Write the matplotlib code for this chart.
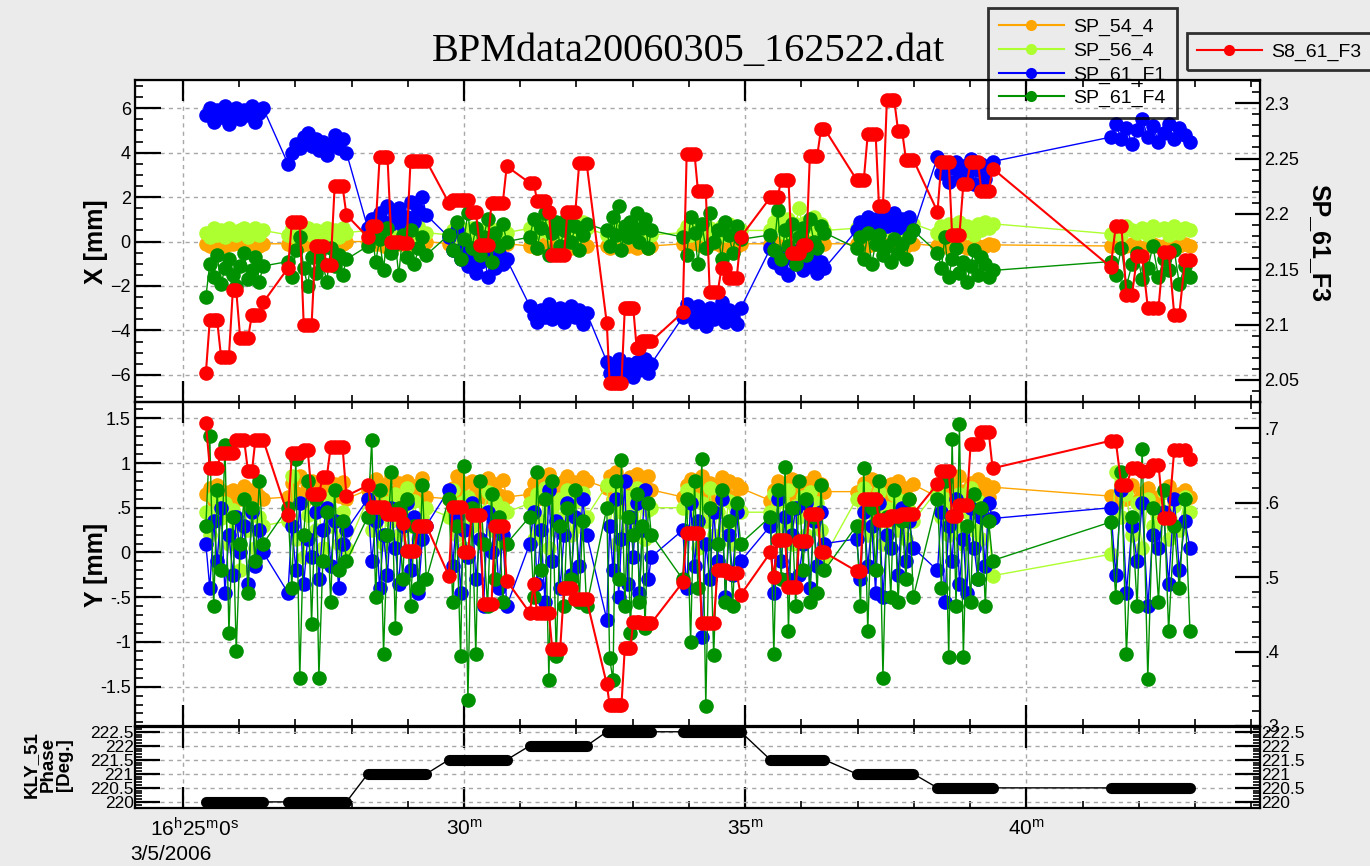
import matplotlib
matplotlib.use('Agg')
import matplotlib.pyplot as plt
from matplotlib.ticker import MultipleLocator, FixedLocator
from matplotlib.lines import Line2D

plt.rcParams['font.family'] = ['Liberation Sans', 'DejaVu Sans']
plt.rcParams['mathtext.fontset'] = 'custom'
plt.rcParams['mathtext.rm'] = 'Liberation Sans'
plt.rcParams['mathtext.it'] = 'Liberation Sans:italic'
plt.rcParams['mathtext.bf'] = 'Liberation Sans:bold'

# ---------------- data (time in minutes after 16:00) ----------------
TIMES = [
    [25.41, 25.48, 25.55, 25.61, 25.68, 25.75, 25.82, 25.89, 25.95, 26.02, 26.09, 26.16, 26.23, 26.29, 26.36, 26.43],
    [26.87, 26.94, 27.01, 27.08, 27.15, 27.22, 27.29, 27.36, 27.42, 27.49, 27.56, 27.63, 27.70, 27.77, 27.84, 27.91],
    [28.29, 28.36, 28.43, 28.50, 28.57, 28.64, 28.71, 28.78, 28.84, 28.91, 28.98, 29.05, 29.12, 29.19, 29.26, 29.33],
    [29.73, 29.80, 29.87, 29.94, 30.00, 30.07, 30.14, 30.21, 30.28, 30.35, 30.42, 30.49, 30.55, 30.62, 30.69, 30.76],
    [31.17, 31.24, 31.30, 31.37, 31.44, 31.51, 31.57, 31.64, 31.71, 31.78, 31.84, 31.91, 31.98, 32.05, 32.11, 32.18],
    [32.54, 32.59, 32.65, 32.70, 32.75, 32.80, 32.86, 32.91, 32.96, 33.01, 33.07, 33.12, 33.17, 33.22, 33.28, 33.33],
    [33.89, 33.96, 34.03, 34.10, 34.16, 34.23, 34.30, 34.37, 34.44, 34.51, 34.58, 34.65, 34.71, 34.78, 34.85, 34.92],
    [35.45, 35.51, 35.58, 35.64, 35.71, 35.77, 35.83, 35.90, 35.96, 36.03, 36.09, 36.15, 36.22, 36.28, 36.35, 36.41],
    [36.98, 37.05, 37.11, 37.18, 37.25, 37.32, 37.38, 37.45, 37.52, 37.59, 37.65, 37.72, 37.79, 37.86, 37.92, 37.99],
    [38.42, 38.49, 38.55, 38.62, 38.68, 38.75, 38.81, 38.88, 38.94, 39.01, 39.07, 39.14, 39.20, 39.27, 39.33, 39.40],
    [41.50, 41.59, 41.69, 41.78, 41.88, 41.97, 42.06, 42.16, 42.25, 42.35, 42.44, 42.53, 42.63, 42.72, 42.82, 42.91],
]
PHASE_LEVELS = [220, 220, 221, 221.5, 222, 222.5, 222.5, 221.5, 221, 220.5, 220.5]

SERIES_NAMES = ['SP_54_4', 'SP_56_4', 'SP_61_F1', 'SP_61_F4']
RED_NAME = 'S8_61_F3'

X_SP54 = [
    [-0.1, -0.2, -0.1, 0.0, -0.1, -0.2, -0.1, -0.1, 0.0, -0.1, -0.2, -0.1, 0.0, -0.1, -0.2, -0.1],
    [-0.1, 0.0, -0.1, -0.2, -0.1, -0.1, 0.0, -0.1, -0.2, -0.1, 0.0, -0.1, -0.1, -0.2, -0.1, 0.0],
    [0.0, -0.1, -0.1, 0.0, -0.2, -0.1, 0.0, -0.1, -0.1, 0.0, -0.2, -0.1, 0.0, -0.1, -0.1, 0.0],
    [-0.1, -0.2, -0.1, -0.1, 0.0, -0.2, -0.1, -0.1, -0.2, -0.1, 0.0, -0.1, -0.2, -0.1, -0.1, -0.1],
    [-0.2, -0.1, -0.3, -0.2, -0.1, -0.2, -0.3, -0.1, -0.2, -0.2, -0.1, -0.3, -0.2, -0.1, -0.2, -0.2],
    [-0.2, -0.3, -0.2, -0.1, -0.2, -0.3, -0.2, -0.2, -0.1, -0.2, -0.3, -0.2, -0.1, -0.2, -0.3, -0.2],
    [-0.1, -0.2, -0.1, 0.0, -0.1, -0.2, -0.1, -0.1, 0.0, -0.1, -0.2, -0.1, 0.0, -0.1, -0.2, -0.1],
    [-0.1, 0.0, -0.1, -0.1, -0.2, -0.1, 0.0, -0.1, -0.1, -0.2, -0.1, 0.0, -0.1, -0.2, -0.1, -0.1],
    [-0.1, -0.1, 0.0, -0.2, -0.1, -0.1, 0.0, -0.1, -0.2, -0.1, 0.0, -0.1, -0.1, -0.2, -0.1, -0.1],
    [-0.2, -0.1, -0.2, -0.3, -0.2, -0.1, -0.2, -0.2, -0.3, -0.2, -0.1, -0.2, -0.3, -0.2, -0.1, -0.15],
    [-0.2, -0.1, -0.2, -0.2, -0.1, -0.2, -0.3, -0.2, -0.1, -0.2, -0.2, -0.1, -0.3, -0.2, -0.1, -0.2],
]
X_SP56 = [
    [0.4, 0.2, 0.6, 0.3, 0.5, 0.2, 0.6, 0.4, 0.3, 0.5, 0.6, 0.2, 0.4, 0.6, 0.3, 0.5],
    [0.3, 0.6, 0.2, 0.5, 0.4, 0.6, 0.3, 0.5, 0.2, 0.4, 0.6, 0.3, 0.5, 0.2, 0.6, 0.4],
    [0.5, 0.3, 0.7, 0.4, 0.6, 0.2, 0.5, 0.7, 0.3, 0.4, 0.6, 0.2, 0.5, 0.7, 0.3, 0.4],
    [0.3, 0.5, 0.2, 0.6, 0.4, 0.3, 0.6, 0.2, 0.5, 0.4, 0.6, 0.3, 0.5, 0.2, 0.6, 0.4],
    [0.6, 0.3, 0.8, 0.5, 0.9, 0.4, 0.7, 0.5, 0.3, 0.6, 0.8, 0.4, 0.7, 0.3, 0.9, 0.6],
    [0.3, 0.5, 0.2, 0.4, 0.6, 0.3, 0.5, 0.2, 0.4, 0.3, 0.6, 0.2, 0.5, 0.3, 0.4, 0.3],
    [0.4, 0.7, 0.3, 0.6, 0.5, 0.8, 0.3, 0.6, 0.4, 0.5, 0.7, 0.3, 0.8, 0.4, 0.6, 0.5],
    [0.5, 0.9, 1.3, 0.7, 0.4, 1.0, 0.6, 0.8, 1.5, 0.5, 0.9, 0.7, 1.1, 0.4, 0.8, 0.5],
    [0.6, 0.3, 0.8, 0.5, 0.4, 0.7, 0.9, 0.5, 0.6, 0.8, 0.3, 0.7, 0.5, 0.9, 0.6, 0.8],
    [0.4, 0.7, 0.3, 0.8, 0.5, 0.6, 0.9, 0.4, 0.7, 0.6, 0.3, 0.8, 0.5, 0.9, 0.6, 0.8],
    [0.35, 0.6, 0.3, 0.7, 0.5, 0.4, 0.6, 0.3, 0.7, 0.5, 0.6, 0.3, 0.7, 0.4, 0.6, 0.5],
]
X_F1 = [
    [5.7, 6.0, 5.4, 5.9, 5.6, 6.1, 5.3, 5.8, 6.0, 5.5, 5.9, 5.7, 6.1, 5.4, 5.8, 6.0],
    [3.5, 4.0, 4.4, 4.2, 4.7, 4.9, 4.3, 4.6, 4.1, 4.5, 3.9, 4.4, 4.8, 4.2, 4.6, 4.0],
    [0.6, 1.0, 0.7, 1.3, 0.9, 1.6, 0.8, 1.2, 1.5, 0.7, 1.1, 1.8, 0.9, 1.4, 2.0, 1.2],
    [0.2, -0.4, 0.5, -0.8, -0.2, -1.1, -0.6, -1.4, -0.9, -0.3, -1.6, -0.7, -1.2, -0.5, -1.0, -0.8],
    [-2.9, -3.3, -3.6, -3.1, -3.4, -2.8, -3.5, -3.2, -3.0, -3.6, -3.3, -2.9, -3.4, -3.1, -3.7, -3.2],
    [-5.4, -5.9, -6.1, -5.6, -5.3, -5.8, -6.0, -5.5, -5.7, -6.1, -5.4, -5.8, -5.6, -5.3, -5.9, -5.5],
    [-3.4, -2.8, -3.1, -3.6, -2.9, -3.3, -3.8, -3.0, -3.5, -3.2, -2.7, -3.6, -3.1, -3.4, -3.7, -3.0],
    [-0.3, -0.9, -0.5, -1.2, -0.6, -1.5, -0.8, -1.0, -0.4, -1.3, -0.7, -1.1, -0.5, -1.4, -0.9, -1.2],
    [0.5, 0.9, 0.7, 1.1, 0.6, 1.0, 0.8, 1.2, 0.7, 0.9, 1.3, 0.6, 1.0, 0.8, 1.1, 0.5],
    [3.8, 3.1, 3.5, 2.7, 3.3, 3.6, 2.9, 3.4, 3.0, 3.7, 2.6, 3.2, 3.5, 2.8, 3.3, 3.6],
    [4.7, 5.3, 4.6, 5.1, 4.4, 5.0, 5.5, 4.7, 5.2, 4.5, 4.9, 5.3, 4.6, 5.1, 4.8, 4.5],
]
X_F4 = [
    [-2.5, -1.0, -1.6, -0.6, -1.9, -1.2, -0.8, -1.5, -2.0, -1.1, -0.5, -1.7, -1.3, -0.7, -1.8, -1.1],
    [-0.9, -1.6, -0.4, 0.2, -1.2, -2.0, -0.7, -1.4, -0.5, -1.0, -1.8, -0.3, -1.1, -0.6, -1.5, -0.8],
    [-0.2, 0.4, -0.9, 0.1, -1.3, 0.6, -0.5, -0.1, -1.5, 0.3, -0.7, 0.5, -1.0, -0.3, 0.2, -0.6],
    [0.3, -0.4, 0.9, -0.8, 0.1, 1.3, -0.3, 0.6, -0.6, 0.2, 1.0, -0.9, 0.4, -0.2, 0.8, 0.0],
    [0.2, 1.0, -0.3, 0.6, 1.3, -0.6, 0.4, 0.9, -0.2, 0.5, 1.1, 0.0, 0.7, -0.4, 0.3, 0.8],
    [0.5, -0.2, 1.1, 0.3, 1.6, -0.4, 0.7, 0.2, 0.9, 0.4, 1.3, 0.0, 0.6, 1.0, -0.3, 0.5],
    [0.2, -0.6, 1.1, 0.4, -1.0, 0.8, -0.3, 1.3, 0.0, 0.5, -0.8, 0.9, 0.3, -0.5, 0.7, 0.1],
    [0.3, -0.4, 1.4, -0.8, 0.5, -0.2, 0.8, -1.0, 0.2, 0.6, -0.6, 1.0, 0.0, -0.3, 0.7, 0.4],
    [-0.3, 0.2, -0.8, 0.4, -1.0, -0.1, 0.3, -0.6, -0.2, -0.9, 0.1, -0.5, -0.1, -0.8, 0.2, 0.5],
    [-0.5, -1.2, 0.2, -1.6, -0.8, -0.3, -1.4, -0.9, -1.8, -1.1, -0.4, -1.5, -0.7, -1.0, -1.6, -1.3],
    [-0.9, -1.5, -0.3, -2.0, -1.0, -0.5, -1.7, -1.2, -0.2, -1.6, -0.8, -1.3, -0.4, -1.9, -1.1, -1.6],
]
X_S8F3 = [  # right axis (SP_61_F3)
    [2.056, 2.104, 2.104, 2.104, 2.071, 2.071, 2.071, 2.131, 2.131, 2.088, 2.088, 2.088, 2.109, 2.109, 2.109, 2.120],
    [2.151, 2.193, 2.193, 2.193, 2.100, 2.100, 2.100, 2.171, 2.171, 2.171, 2.154, 2.154, 2.225, 2.225, 2.225, 2.199],
    [2.179, 2.189, 2.189, 2.251, 2.251, 2.251, 2.175, 2.175, 2.175, 2.174, 2.174, 2.248, 2.248, 2.248, 2.248, 2.248],
    [2.210, 2.213, 2.213, 2.213, 2.213, 2.213, 2.202, 2.202, 2.172, 2.172, 2.172, 2.210, 2.210, 2.210, 2.210, 2.243],
    [2.228, 2.228, 2.212, 2.212, 2.212, 2.202, 2.163, 2.163, 2.163, 2.163, 2.202, 2.202, 2.202, 2.246, 2.246, 2.246],
    [2.101, 2.047, 2.047, 2.047, 2.047, 2.047, 2.115, 2.115, 2.115, 2.115, 2.079, 2.079, 2.085, 2.085, 2.085, 2.085],
    [2.111, 2.254, 2.254, 2.254, 2.221, 2.221, 2.221, 2.129, 2.129, 2.129, 2.151, 2.151, 2.142, 2.142, 2.142, 2.179],
    [2.215, 2.215, 2.215, 2.231, 2.231, 2.231, 2.165, 2.165, 2.165, 2.172, 2.172, 2.252, 2.252, 2.252, 2.277, 2.277],
    [2.231, 2.231, 2.231, 2.272, 2.272, 2.272, 2.207, 2.207, 2.303, 2.303, 2.303, 2.275, 2.275, 2.249, 2.249, 2.249],
    [2.202, 2.247, 2.247, 2.247, 2.181, 2.181, 2.181, 2.227, 2.227, 2.247, 2.247, 2.247, 2.221, 2.221, 2.221, 2.241],
    [2.152, 2.189, 2.189, 2.127, 2.127, 2.162, 2.162, 2.115, 2.115, 2.115, 2.166, 2.166, 2.109, 2.109, 2.158, 2.158],
]

Y_SP54 = [
    [0.65, 0.72, 0.58, 0.75, 0.62, 0.68, 0.55, 0.70, 0.64, 0.60, 0.74, 0.66, 0.58, 0.71, 0.63, 0.60],
    [0.62, 0.78, 0.66, 0.85, 0.58, 0.72, 0.80, 0.64, 0.75, 0.60, 0.82, 0.68, 0.76, 0.63, 0.79, 0.60],
    [0.70, 0.58, 0.82, 0.65, 0.75, 0.60, 0.85, 0.68, 0.78, 0.62, 0.80, 0.66, 0.74, 0.59, 0.83, 0.62],
    [0.60, 0.72, 0.85, 0.65, 0.78, 0.58, 0.80, 0.68, 0.74, 0.62, 0.83, 0.70, 0.76, 0.64, 0.81, 0.62],
    [0.65, 0.78, 0.60, 0.82, 0.70, 0.88, 0.62, 0.75, 0.68, 0.80, 0.86, 0.66, 0.79, 0.72, 0.84, 0.80],
    [0.72, 0.85, 0.60, 0.90, 0.66, 0.80, 0.55, 0.76, 0.84, 0.70, 0.88, 0.64, 0.82, 0.74, 0.86, 0.70],
    [0.62, 0.75, 0.82, 0.58, 0.70, 0.86, 0.64, 0.78, 0.60, 0.72, 0.84, 0.66, 0.80, 0.62, 0.76, 0.72],
    [0.58, 0.70, 0.80, 0.62, 0.75, 0.66, 0.82, 0.60, 0.72, 0.68, 0.78, 0.63, 0.84, 0.70, 0.76, 0.68],
    [0.68, 0.60, 0.78, 0.65, 0.82, 0.58, 0.74, 0.70, 0.62, 0.76, 0.66, 0.80, 0.64, 0.72, 0.60, 0.76],
    [0.62, 0.75, 0.58, 0.80, 0.66, 0.72, 0.85, 0.60, 0.70, 0.78, 0.64, 0.82, 0.68, 0.76, 0.62, 0.73],
    [0.63, 0.55, 0.70, 0.60, 0.75, 0.58, 0.66, 0.72, 0.56, 0.62, 0.68, 0.74, 0.58, 0.65, 0.70, 0.62],
]
Y_SP56 = [
    [0.45, 0.20, 0.62, -0.15, 0.38, 0.55, 0.10, 0.48, 0.30, -0.20, 0.60, 0.25, 0.50, 0.05, 0.40, 0.30],
    [0.35, 0.85, 0.15, 0.55, -0.05, 0.42, 0.65, 0.25, 0.50, 0.05, 0.60, 0.30, 0.70, 0.10, 0.45, 0.05],
    [0.60, 0.25, 0.45, 0.70, 0.10, 0.55, 0.35, 0.65, 0.20, 0.50, 0.72, 0.30, 0.58, 0.15, 0.40, 0.50],
    [0.40, 0.70, 0.20, 0.55, 0.05, 0.62, 0.30, 0.48, 0.15, 0.45, 0.68, 0.25, 0.58, 0.10, 0.50, 0.45],
    [0.55, 0.15, 0.65, 0.35, 0.72, 0.05, 0.50, 0.25, 0.60, 0.40, 0.70, 0.20, 0.58, 0.30, 0.66, 0.40],
    [0.75, 0.30, 0.55, 0.10, 0.68, 0.45, 0.20, 0.62, 0.35, 0.50, 0.72, 0.25, 0.60, 0.15, 0.48, 0.50],
    [0.50, 0.70, 0.25, 0.60, 0.05, 0.55, 0.35, 0.72, 0.20, 0.45, 0.65, 0.30, 0.58, 0.10, 0.50, 0.45],
    [0.45, 0.65, 0.15, 0.58, 0.30, 0.70, 0.10, 0.52, 0.40, 0.62, 0.20, 0.68, 0.35, 0.55, 0.25, -0.05],
    [0.60, 0.30, 0.72, 0.20, 0.55, 0.40, 0.68, 0.10, 0.50, 0.35, 0.65, 0.25, 0.58, 0.15, 0.48, 0.35],
    [0.70, 0.40, 0.60, 0.20, 0.55, 0.30, 0.65, 0.10, 0.45, 0.72, 0.25, 0.58, 0.15, 0.50, 0.35, -0.26],
    [-0.02, 0.90, 0.40, 0.65, 0.20, 0.55, 0.05, 0.60, 0.30, 0.45, 0.68, 0.15, 0.52, 0.25, 0.62, 0.45],
]
Y_F1 = [
    [0.10, -0.40, 0.35, -0.10, 0.50, -0.45, 0.20, -0.25, 0.40, 0.00, 0.30, -0.35, 0.45, -0.15, 0.25, 0.00],
    [-0.45, 0.30, -0.20, 0.55, -0.35, 0.15, -0.05, 0.45, -0.30, 0.25, 0.50, -0.15, 0.35, -0.40, 0.10, 0.25],
    [0.60, -0.10, 0.35, -0.40, 0.20, -0.25, 0.50, 0.05, -0.35, 0.30, 0.55, -0.20, 0.40, -0.45, 0.15, 0.30],
    [0.70, -0.15, 0.40, -0.45, 0.25, -0.05, 0.55, -0.30, 0.15, -0.60, 0.45, 0.00, 0.35, -0.40, 0.20, -0.60],
    [0.10, 0.45, -0.35, 0.25, -0.55, 0.70, -0.10, 0.35, -0.40, 0.20, 0.55, -0.25, 0.40, -0.15, 0.60, 0.20],
    [-0.75, 0.30, -0.20, 0.60, -0.50, 0.15, 0.80, -0.35, 0.40, -0.05, 0.55, -0.45, 0.25, 0.70, -0.30, -0.05],
    [0.25, -0.40, 0.55, -0.15, 0.35, -0.95, 0.10, -0.30, 0.45, -0.10, 0.60, -0.50, 0.20, -0.25, 0.45, -0.10],
    [0.30, -0.45, 0.60, -0.10, 0.40, -0.30, 0.20, 0.50, -0.25, 0.10, 0.55, -0.40, 0.35, -0.15, 0.45, 0.10],
    [0.15, -0.30, 0.45, -0.15, 0.30, -0.45, 0.55, -0.50, 0.20, 0.05, 0.40, -0.25, 0.50, -0.10, 0.35, 0.05],
    [-0.20, 0.45, -0.55, 0.30, -0.10, 0.60, -0.35, 0.15, -0.45, 0.50, 0.05, -0.30, 0.40, -0.15, 0.55, 0.38],
    [0.50, -0.25, 0.70, -0.45, 0.30, -0.10, 0.55, -0.60, 0.20, 0.05, 0.45, -0.35, 0.60, -0.20, 0.35, 0.05],
]
Y_F4 = [
    [0.30, 1.30, -0.60, 0.70, -0.20, 1.20, -0.90, 0.40, -1.10, 0.10, 0.60, -0.45, 0.50, -0.10, 0.80, 0.10],
    [0.50, -0.40, 1.05, -1.40, 0.20, 0.80, -0.80, 0.60, -1.40, -0.10, 0.45, -0.55, 0.70, -0.20, 0.35, -0.10],
    [0.40, 1.26, -0.50, 0.70, -1.13, 0.20, 0.90, -0.85, 0.50, -0.30, 0.60, -0.60, 0.30, -0.40, 0.75, -0.30],
    [0.60, -0.55, 0.30, -1.16, 0.97, -1.65, 0.50, -1.14, 0.80, 0.10, -0.60, 0.65, -0.30, 0.40, -0.55, 0.10],
    [0.40, -0.50, 0.90, -0.20, 0.60, -1.43, 0.80, -1.16, 0.30, -0.60, 0.50, -0.30, 0.70, -0.55, 0.35, -0.60],
    [0.50, -1.18, -1.43, 0.80, -0.30, 1.03, -0.60, 0.40, -0.90, 0.20, 0.65, -0.55, 0.30, -0.85, 0.55, 0.20],
    [-0.30, 0.60, -1.00, 0.80, -0.40, 1.04, -1.72, 0.50, -1.15, 0.10, 0.70, -0.55, 0.35, -0.60, 0.55, 0.10],
    [0.40, -1.14, 0.70, -0.30, 0.96, -0.88, 0.50, -0.60, 0.80, -0.20, 0.60, -0.55, 0.40, -0.45, 0.75, -0.20],
    [0.30, -0.60, 0.94, -0.88, 0.50, -0.20, 0.80, -1.40, 0.40, -0.50, 0.70, -0.55, 0.35, -0.30, 0.60, -0.50],
    [0.60, -0.40, 0.80, -1.17, 1.27, -0.60, 1.44, -1.17, 0.30, -0.55, 0.65, -0.30, 0.50, -0.60, 0.35, -0.09],
    [0.34, -0.50, 0.90, -1.14, 0.40, -0.60, 1.16, -1.41, 0.50, -0.55, 0.70, -0.88, 0.30, -0.40, 0.60, -0.88],
]
Y_S8F3 = [  # right axis
    [0.707, 0.647, 0.647, 0.647, 0.666, 0.666, 0.666, 0.666, 0.684, 0.684, 0.684, 0.642, 0.642, 0.684, 0.684, 0.684],
    [0.583, 0.666, 0.666, 0.666, 0.671, 0.671, 0.612, 0.612, 0.612, 0.634, 0.634, 0.675, 0.675, 0.675, 0.675, 0.609],
    [0.623, 0.594, 0.594, 0.594, 0.594, 0.585, 0.585, 0.585, 0.585, 0.573, 0.535, 0.535, 0.535, 0.569, 0.569, 0.569],
    [0.502, 0.594, 0.594, 0.594, 0.533, 0.533, 0.583, 0.583, 0.583, 0.464, 0.464, 0.464, 0.569, 0.569, 0.569, 0.495],
    [0.452, 0.490, 0.452, 0.452, 0.452, 0.452, 0.403, 0.403, 0.403, 0.485, 0.485, 0.485, 0.470, 0.470, 0.470, 0.470],
    [0.356, 0.328, 0.328, 0.328, 0.328, 0.328, 0.405, 0.405, 0.405, 0.440, 0.440, 0.440, 0.438, 0.438, 0.438, 0.438],
    [0.493, 0.559, 0.559, 0.559, 0.559, 0.438, 0.438, 0.438, 0.438, 0.510, 0.510, 0.510, 0.505, 0.505, 0.505, 0.476],
    [0.533, 0.500, 0.550, 0.550, 0.550, 0.486, 0.486, 0.486, 0.548, 0.548, 0.548, 0.585, 0.585, 0.585, 0.533, 0.533],
    [0.508, 0.508, 0.605, 0.605, 0.605, 0.605, 0.577, 0.577, 0.577, 0.582, 0.582, 0.582, 0.585, 0.585, 0.585, 0.585],
    [0.625, 0.642, 0.642, 0.642, 0.582, 0.582, 0.597, 0.597, 0.597, 0.679, 0.679, 0.679, 0.695, 0.695, 0.695, 0.646],
    [0.683, 0.683, 0.623, 0.623, 0.647, 0.647, 0.642, 0.642, 0.651, 0.651, 0.579, 0.579, 0.671, 0.671, 0.671, 0.658],
]

X_TICKS = [25, 30, 35, 40]
X_TICK_LABELS = ['', '30$^{\\mathrm{m}}$', '35$^{\\mathrm{m}}$', '40$^{\\mathrm{m}}$']
X1_TICKS = [-6, -4, -2, 0, 2, 4, 6]
X1R_TICKS = [2.05, 2.1, 2.15, 2.2, 2.25, 2.3]
X1R_LABELS = ['2.05', '2.1', '2.15', '2.2', '2.25', '2.3']
Y2_TICKS = [-1.5, -1, -0.5, 0, 0.5, 1, 1.5]
Y2_LABELS = ['-1.5', '-1', '-.5', '0', '.5', '1', '1.5']
Y2R_TICKS = [0.3, 0.4, 0.5, 0.6, 0.7]
Y2R_LABELS = ['.3', '.4', '.5', '.6', '.7']
PH_TICKS = [220, 220.5, 221, 221.5, 222, 222.5]
PH_LABELS = ['220', '220.5', '221', '221.5', '222', '222.5']


def flat(cl):
    return [v for c in cl for v in c]


t = flat(TIMES)
phase = [lvl for c, lvl in zip(TIMES, PHASE_LEVELS) for _ in c]

COLORS = ['#ffa500', '#adff2f', '#0000ff', '#009100']
RED = '#ff0000'
MS = 10.5

fig = plt.figure(figsize=(13.7, 8.66), dpi=100, facecolor='#ebebeb')
W, H = 1370.0, 866.0
L, R = 135, 1260


def rect(top, bottom):
    return [L / W, 1 - bottom / H, (R - L) / W, (bottom - top) / H]


ax1 = fig.add_axes(rect(80, 402))
ax2 = fig.add_axes(rect(402, 726))
ax3 = fig.add_axes(rect(727, 807.5))
XLIM = (24.15, 44.155)


def style(ax, ylen=19):
    ax.set_facecolor('white')
    for s in ax.spines.values():
        s.set_linewidth(1.6)
    ax.set_xlim(*XLIM)
    ax.xaxis.set_major_locator(FixedLocator(X_TICKS))
    ax.xaxis.set_minor_locator(MultipleLocator(1))
    ax.tick_params(axis='x', which='major', direction='in', length=15, width=1.6,
                   top=True, bottom=True, labelbottom=False)
    ax.tick_params(axis='x', which='minor', direction='in', length=5, width=1.2,
                   top=True, bottom=True)
    ax.tick_params(axis='y', which='major', direction='in', length=ylen, width=1.6,
                   left=True, right=False, labelsize=13, pad=3)
    ax.tick_params(axis='y', which='minor', direction='in', length=6, width=1.2,
                   left=True, right=False)
    ax.grid(True, which='major', color='#a8a8a8', linestyle=(0, (3, 3)), linewidth=1)
    ax.set_axisbelow(True)


def style_right(axr, ylen=18):
    axr.tick_params(axis='y', which='major', direction='in', length=ylen, width=1.6,
                    right=True, left=False, labelsize=13, pad=3)
    axr.tick_params(axis='y', which='minor', direction='in', length=6, width=1.2,
                    right=True, left=False)


# ---------- top panel (X) ----------
for vals, col in zip([X_SP54, X_SP56, X_F1, X_F4], COLORS):
    ax1.plot(t, flat(vals), color=col, lw=1.0, marker='o', ms=MS, mew=0)
ax1r = ax1.twinx()
ax1r.plot(t, flat(X_S8F3), color=RED, lw=1.5, marker='o', ms=MS, mew=0)
style(ax1)
ax1.set_ylim(-7.22, 7.27)
ax1.yaxis.set_major_locator(FixedLocator(X1_TICKS))
ax1.yaxis.set_minor_locator(MultipleLocator(0.5))
ax1r.set_ylim(2.030, 2.321)
ax1r.set_yticks(X1R_TICKS)
ax1r.set_yticklabels(X1R_LABELS)
ax1r.yaxis.set_minor_locator(MultipleLocator(0.01))
style_right(ax1r)

# ---------- middle panel (Y) ----------
for vals, col in zip([Y_SP54, Y_SP56, Y_F1, Y_F4], COLORS):
    ax2.plot(t, flat(vals), color=col, lw=1.0, marker='o', ms=MS, mew=0)
ax2r = ax2.twinx()
ax2r.plot(t, flat(Y_S8F3), color=RED, lw=1.5, marker='o', ms=MS, mew=0)
style(ax2)
ax2.set_ylim(-1.94, 1.682)
ax2.set_yticks(Y2_TICKS)
ax2.set_yticklabels(Y2_LABELS)
ax2.yaxis.set_minor_locator(MultipleLocator(0.1))
ax2r.set_ylim(0.301, 0.735)
ax2r.set_yticks(Y2R_TICKS)
ax2r.set_yticklabels(Y2R_LABELS)
ax2r.yaxis.set_minor_locator(MultipleLocator(0.02))
style_right(ax2r)

# ---------- bottom panel (phase) ----------
ax3.plot(t, phase, color='black', lw=1.0)
i = 0
for c in TIMES:
    ax3.plot(t[i:i + len(c)], phase[i:i + len(c)], color='black', lw=8,
             solid_capstyle='round')
    i += len(c)
style(ax3, ylen=18)
ax3.set_ylim(219.8, 222.67)
ax3.set_yticks(PH_TICKS)
ax3.set_yticklabels(PH_LABELS)
ax3.yaxis.set_minor_locator(MultipleLocator(0.1))
ax3.tick_params(axis='y', which='both', right=True, labelright=True, labelsize=12.5, pad=1)
ax3.tick_params(axis='y', which='major', length=18)
ax3.tick_params(axis='y', which='minor', length=5)
ax3.set_xticklabels(X_TICK_LABELS)
ax3.tick_params(axis='x', which='major', labelbottom=True, labelsize=15, pad=8)

# custom first time label
fig.text(194 / W, 1 - 829 / H, '16$^{\\mathrm{h}}$25$^{\\mathrm{m}}$0$^{\\mathrm{s}}$',
         ha='center', va='center', fontsize=15)
fig.text(171 / W, 1 - 854 / H, '3/5/2006', ha='center', va='center', fontsize=15)

# axis labels
fig.text(96 / W, 1 - 242 / H, 'X [mm]', rotation=90, ha='center', va='center',
         fontsize=18, fontweight='bold')
fig.text(96 / W, 1 - 565 / H, 'Y [mm]', rotation=90, ha='center', va='center',
         fontsize=18, fontweight='bold')
fig.text(1319 / W, 1 - 243 / H, 'SP_61_F3', rotation=270, ha='center', va='center',
         fontsize=18, fontweight='bold')
fig.text(48 / W, 1 - 765 / H, 'KLY_51\nPhase\n[Deg.]', rotation=90, ha='center',
         va='center', fontsize=13.5, fontweight='bold', linespacing=1.0,
         multialignment='center')

# title
fig.text(688 / W, 1 - 51 / H, 'BPMdata20060305_162522.dat', ha='center', va='center',
         fontsize=29, family=['Liberation Serif', 'DejaVu Serif'])

# legends
handles = [Line2D([], [], color=c, lw=1.5, marker='o', ms=8, mew=0) for c in COLORS]
leg1 = fig.legend(handles, SERIES_NAMES, loc='upper left',
                  bbox_to_anchor=(988 / W, 1 - 8 / H), fontsize=14,
                  handlelength=3.35, handletextpad=0.5, labelspacing=0.3,
                  borderpad=0.55, borderaxespad=0, fancybox=False,
                  facecolor='none', edgecolor='black')
leg1.get_frame().set_linewidth(2)
leg2 = fig.legend([Line2D([], [], color=RED, lw=1.5, marker='o', ms=8, mew=0)],
                  [RED_NAME], loc='upper left', bbox_to_anchor=(1187 / W, 1 - 33 / H),
                  fontsize=14, handlelength=3.35, handletextpad=0.5,
                  borderpad=0.5, borderaxespad=0, fancybox=False,
                  facecolor='none', edgecolor='black')
leg2.get_frame().set_linewidth(2)

fig.savefig('out.png', dpi=100, facecolor=fig.get_facecolor())
